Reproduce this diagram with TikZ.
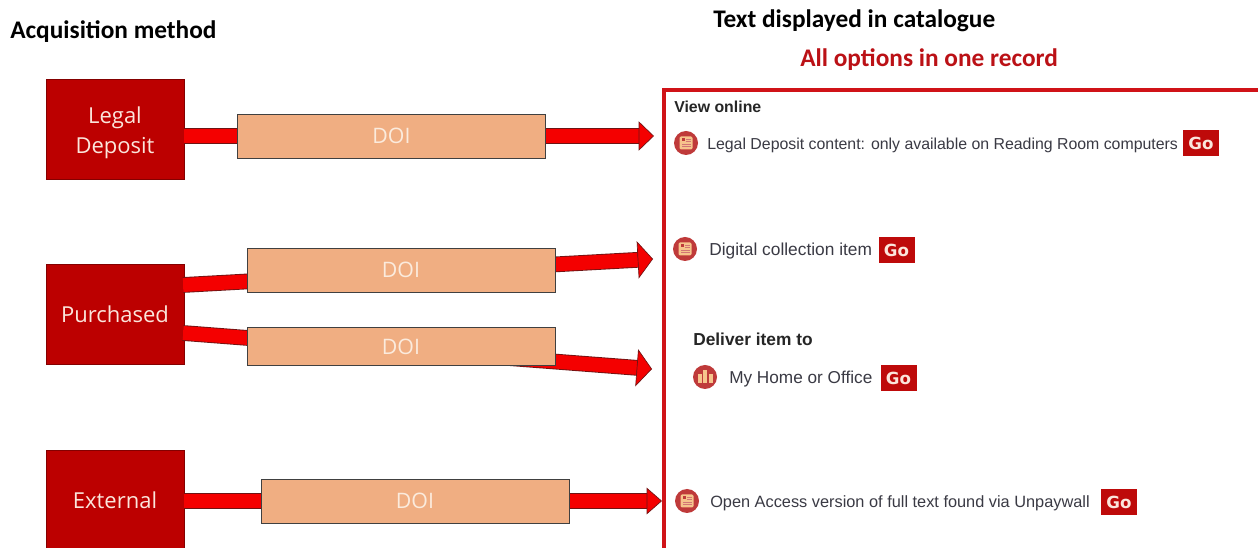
\documentclass[tikz,border=0pt]{standalone}
\usepackage{fontspec}
\setmainfont{Liberation Sans}
\newfontfamily\headfont{Carlito}
\newfontfamily\boxfont{Open Sans}
\newfontfamily\gofont{DejaVu Sans}
\usetikzlibrary{arrows.meta,calc}
\definecolor{boxred}{HTML}{BC0000}
\definecolor{arrowred}{HTML}{F40000}
\definecolor{arrowdark}{HTML}{6E1414}
\definecolor{frameRed}{HTML}{D01318}
\definecolor{doifill}{HTML}{F0AE82}
\definecolor{doitext}{HTML}{FBEBDD}
\definecolor{boxtext}{HTML}{FBE6DC}
\definecolor{bodytext}{HTML}{3A3A44}
\definecolor{goRed}{HTML}{BE0A0A}
\definecolor{iconring}{HTML}{BF3A3A}
\definecolor{iconin}{HTML}{F6C48C}
\newcommand{\fsz}[1]{\fontsize{#1}{#1}\selectfont}
\tikzset{
 x=0.75pt,y=-0.75pt,
 method/.style={fill=boxred,draw=boxred!70!black,line width=0.3pt,minimum width=103.5pt,inner sep=0pt,text=boxtext,font=\boxfont\fsz{16.5},align=center},
 doibox/.style={fill=doifill,draw=black!75,line width=0.6pt,inner sep=0pt,minimum width=231pt,text=doitext,font=\boxfont\fsz{16}},
 bigarrow/.style={line width=10.5pt,color=arrowred,
   preaction={draw=arrowdark,line width=11.8pt,shorten >=9pt,-},
   -{Triangle[length=11.5pt,width=#1,fill=arrowred,color=arrowdark,line width=0.5pt]}},
 heading/.style={font=\headfont\bfseries\fsz{19},text=black,inner sep=0pt,anchor=west},
 body/.style={font=\fsz{12},text=bodytext,inner sep=0pt,anchor=west},
 boldbody/.style={font=\bfseries\fsz{11.9},text=black!85,inner sep=0pt,anchor=west},
 gobtn/.style={fill=goRed,inner sep=0pt,minimum width=27pt,minimum height=20pt,text=boxtext,font=\gofont\bfseries\fsz{12.5}},
 ring/.style={circle,fill=iconring,inner sep=0pt,minimum size=18pt},
}
\newcommand{\docicon}[2]{%
 \node[ring] (#1) at #2 {};
 \fill[iconin,rounded corners=1pt] ($(#1)+(-6.5,-6.5)$) rectangle ($(#1)+(6.5,6.5)$);
 \fill[iconring] ($(#1)+(-4.5,-4.5)$) rectangle ($(#1)+(-1,-1.5)$);
 \fill[iconring!70] ($(#1)+(0,-4)$) rectangle ($(#1)+(4.5,-3)$);
 \fill[iconring!70] ($(#1)+(0,-2)$) rectangle ($(#1)+(4.5,-1)$);
 \fill[iconring!70] ($(#1)+(-4.5,0.7)$) rectangle ($(#1)+(4.5,1.7)$);
 \fill[iconring!70] ($(#1)+(-4.5,3)$) rectangle ($(#1)+(4.5,4)$);
}
\newcommand{\libicon}[2]{%
 \node[ring] (#1) at #2 {};
 \fill[iconin] ($(#1)+(-7.5,-3)$) rectangle ($(#1)+(-3.5,6)$);
 \fill[iconin] ($(#1)+(-2,-6.5)$) rectangle ($(#1)+(2,6)$);
 \fill[iconin] ($(#1)+(3.5,-3)$) rectangle ($(#1)+(7.5,6)$);
}
\begin{document}
\begin{tikzpicture}
\useasboundingbox (0,0) rectangle (1258,548);
\fill[white] (0,0) rectangle (1258,548);
% headings
\node[heading] (h1) at (10,31.5) {Acquisition method};
\node[heading] (h2) at (713,20.5) {Text displayed in catalogue};
\node[heading,text=frameRed!90!black] (h3) at (800,59.5) {All options in one record};
% method boxes
\node[method,minimum height=75pt,text depth=0pt] (legal) at (115,129) {\raisebox{-1.5pt}{Legal}\\[6.5pt]\raisebox{-1.5pt}{Deposit}};
\node[method,minimum height=75pt] (purch) at (115,314.5) {Purchased};
\node[method,minimum height=74pt] (ext) at (115,500) {External};
% connector ends
\coordinate (p1) at (654,136);
\coordinate (p2) at (653,259);
\coordinate (p3) at (652,369);
\coordinate (p4) at (662,501);
\coordinate (s1) at (184,136);
\coordinate (s2) at (183,285);
\coordinate (s3) at (183,333);
\coordinate (s4) at (184,501);
\draw[bigarrow=22pt] (s1) -- (p1);
\draw[bigarrow=28pt] (s2) -- (p2);
\draw[bigarrow=28pt] (s3) -- (p3);
\draw[bigarrow=20pt] (s4) -- (p4);
% DOI boxes
\node[doibox,minimum height=33pt] (d1) at (391.5,136) {\raisebox{-1pt}{DOI}};
\node[doibox,minimum height=33pt] (d2) at (401,270) {\raisebox{-1pt}{DOI}};
\node[doibox,minimum height=29pt] (d3) at (401,346.5) {DOI};
\node[doibox,minimum height=33pt] (d4) at (415,501) {DOI};
% frame: the picture cuts it off at the right and at the bottom
\draw[frameRed,line width=3pt] (664,548) -- (664,90) -- (1258,90);
% contents
\node[boldbody] (v) at (674,107) {View online};
\docicon{i1}{(686,143)}
\node[body,font=\fsz{11.9}] (t1) at (707,145) {Legal Deposit content: only available on Reading Room computers};
\node[gobtn] (g1) at (1201,143) {Go};
\docicon{i2}{(685,249)}
\node[body,font=\fsz{13}] (t2) at (709,251) {Digital collection item};
\node[gobtn] (g2) at (896.5,250) {Go};
\node[boldbody,font=\bfseries\fsz{13}] (dv) at (693,339) {Deliver item to};
\libicon{i3}{(705,377)}
\node[body,font=\fsz{12.9}] (t3) at (729,379) {My Home or Office};
\node[gobtn] (g3) at (898.5,378) {Go};
\docicon{i4}{(687,501)}
\node[body,font=\fsz{12.25}] (t4) at (710,503) {Open Access version of full text found via Unpaywall};
\node[gobtn] (g4) at (1119,502) {Go};
\end{tikzpicture}
\end{document}
